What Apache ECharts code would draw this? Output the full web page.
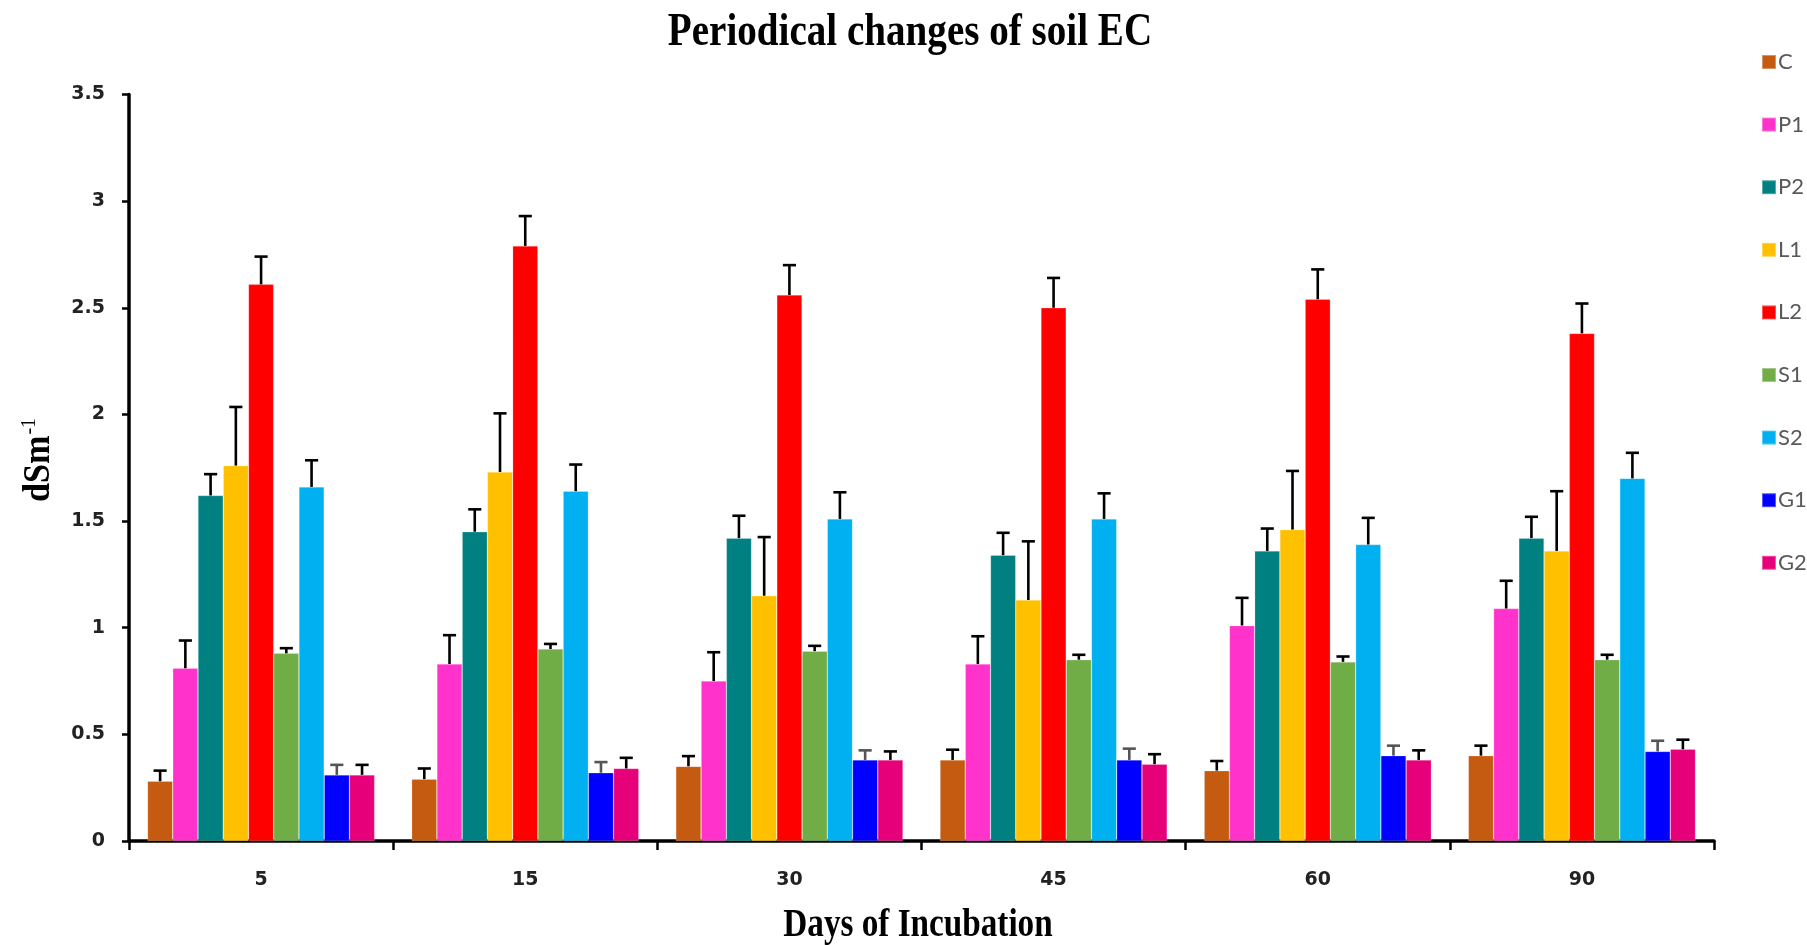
<!DOCTYPE html>
<html>
<head>
<meta charset="utf-8">
<title>Periodical changes of soil EC</title>
<script src="https://cdn.jsdelivr.net/npm/echarts@6/dist/echarts.min.js"></script>
<style>
  html, body { margin: 0; padding: 0; background: #fff; }
  #chart { width: 1807px; height: 945px; }
</style>
</head>
<body>
<div id="chart"></div>
<script>
// Days of incubation (x categories)
const days = ['5', '15', '30', '45', '60', '90'];

// Treatments (legend order)
const treatments = ['C', 'P1', 'P2', 'L1', 'L2', 'S1', 'S2', 'G1', 'G2'];

// Mean soil EC (dS m-1) per treatment, one value per day
const meanC  = [0.28, 0.29, 0.35, 0.38, 0.33, 0.40];
const meanP1 = [0.81, 0.83, 0.75, 0.83, 1.01, 1.09];
const meanP2 = [1.62, 1.45, 1.42, 1.34, 1.36, 1.42];
const meanL1 = [1.76, 1.73, 1.15, 1.13, 1.46, 1.36];
const meanL2 = [2.61, 2.79, 2.56, 2.50, 2.54, 2.38];
const meanS1 = [0.88, 0.90, 0.89, 0.85, 0.84, 0.85];
const meanS2 = [1.66, 1.64, 1.51, 1.51, 1.39, 1.70];
const meanG1 = [0.31, 0.32, 0.38, 0.38, 0.40, 0.42];
const meanG2 = [0.31, 0.34, 0.38, 0.36, 0.38, 0.43];

// Standard errors (upper bars only)
const errC  = [0.050, 0.050, 0.048, 0.048, 0.045, 0.047];
const errP1 = [0.130, 0.135, 0.135, 0.130, 0.130, 0.130];
const errP2 = [0.100, 0.105, 0.105, 0.105, 0.105, 0.100];
const errL1 = [0.275, 0.275, 0.275, 0.275, 0.275, 0.280];
const errL2 = [0.130, 0.140, 0.140, 0.140, 0.140, 0.140];
const errS1 = [0.024, 0.024, 0.025, 0.023, 0.025, 0.023];
const errS2 = [0.125, 0.125, 0.125, 0.120, 0.125, 0.120];
const errG1 = [0.047, 0.050, 0.045, 0.053, 0.047, 0.050];
const errG2 = [0.047, 0.050, 0.040, 0.047, 0.045, 0.045];

const means = [meanC, meanP1, meanP2, meanL1, meanL2, meanS1, meanS2, meanG1, meanG2];
const errs  = [errC, errP1, errP2, errL1, errL2, errS1, errS2, errG1, errG2];

const colors = ['#C55A11', '#FF33CC', '#008080', '#FFC000', '#FF0000',
                '#70AD47', '#00B0F0', '#0000FF', '#E6007A'];
const errColors = ['#000', '#000', '#000', '#000', '#000', '#000', '#000', '#555', '#000'];

const CATEGORY_GAP = 0.14;   // fraction of each band left empty
const nSeries = treatments.length;

const chart = echarts.init(document.getElementById('chart'));

const barSeries = treatments.map((name, i) => ({
  name: name,
  type: 'bar',
  data: means[i],
  barGap: 0,
  barCategoryGap: (CATEGORY_GAP * 100) + '%',
  itemStyle: { color: colors[i], borderColor: 'rgba(255,255,255,0.35)', borderWidth: 0.6 },
  z: 2
}));

// Upper error bars positioned over the matching bar within each day group
const errorSeries = treatments.map((name, i) => ({
  name: name,
  type: 'custom',
  data: means[i].map((v, k) => [k, v, errs[i][k]]),
  encode: { x: 0, y: 1 },
  z: 5,
  silent: true,
  renderItem: function (params, api) {
    const k = api.value(0);
    const v = api.value(1);
    const e = api.value(2);
    const band = api.size([1, 0])[0];
    const barW = band * (1 - CATEGORY_GAP) / nSeries;
    const center = api.coord([k, v]);
    const x = center[0] + (i - (nSeries - 1) / 2) * barW;
    const yTop = api.coord([k, v + e])[1];
    const yBase = center[1];
    const capHalf = barW * 0.26;
    const st = { stroke: errColors[i], lineWidth: 2.6 };
    return {
      type: 'group',
      children: [
        { type: 'line', shape: { x1: x, y1: yBase, x2: x, y2: yTop }, style: st },
        { type: 'line', shape: { x1: x - capHalf, y1: yTop, x2: x + capHalf, y2: yTop }, style: st }
      ]
    };
  }
}));

const option = {
  backgroundColor: '#ffffff',
  animation: false,
  grid: { left: 129, right: 93, top: 94.5, bottom: 104, containLabel: false },
  legend: {
    orient: 'vertical',
    left: 1756,
    top: 46,
    itemWidth: 14,
    itemHeight: 14,
    itemGap: 40.6,
    icon: 'rect',
    data: treatments,
    textStyle: { color: '#595959', fontFamily: 'Lato', fontSize: 22, lineHeight: 20, padding: [0, 0, 0, -3] }
  },
  xAxis: {
    type: 'category',
    data: days,
    axisLine: { lineStyle: { color: '#000', width: 3.5 } },
    axisTick: { show: true, alignWithLabel: false, length: 9, lineStyle: { color: '#000', width: 2.5 } },
    axisLabel: { color: '#222', fontFamily: 'DejaVu Sans', fontWeight: 'bold', fontSize: 19, margin: 30 },
    splitLine: { show: false }
  },
  yAxis: {
    type: 'value',
    min: 0,
    max: 3.5,
    interval: 0.5,
    axisLine: { show: true, lineStyle: { color: '#000', width: 3.5 } },
    axisTick: { show: true, length: 7, lineStyle: { color: '#000', width: 2.5 } },
    axisLabel: { color: '#222', fontFamily: 'DejaVu Sans', fontWeight: 'bold', fontSize: 19, margin: 24 },
    splitLine: { show: false }
  },
  graphic: [
    {
      type: 'text', x: 910, y: 33, scaleX: 0.85, z: 10,
      style: {
        text: 'Periodical changes of soil EC',
        font: 'bold 46px "Liberation Serif"',
        fill: '#000', align: 'center', verticalAlign: 'middle'
      }
    },
    {
      type: 'text', x: 918, y: 926, scaleX: 0.83, z: 10,
      style: {
        text: 'Days of Incubation',
        font: 'bold 40px "Liberation Serif"',
        fill: '#000', align: 'center', verticalAlign: 'middle'
      }
    },
    {
      type: 'text', x: 38, y: 460, rotation: Math.PI / 2, scaleX: 0.9, z: 10,
      style: {
        text: '{b|dSm}{s|-1}',
        rich: {
          b: { font: 'bold 38px "Liberation Serif"', fill: '#000', verticalAlign: 'bottom' },
          s: { font: '22px "Liberation Serif"', fill: '#000', padding: [0, 0, 18, 1] }
        },
        align: 'center', verticalAlign: 'middle'
      }
    }
  ],
  series: barSeries.concat(errorSeries)
};

chart.setOption(option);
</script>
</body>
</html>
